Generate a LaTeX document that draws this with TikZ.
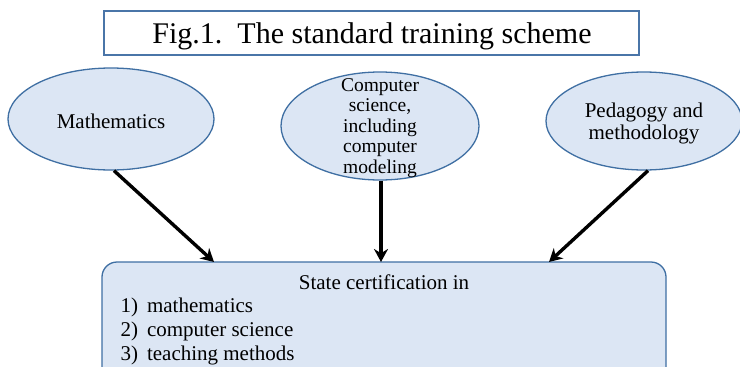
\documentclass[tikz,border=0pt]{standalone}
\usepackage{fontspec}
\setmainfont{Liberation Serif}
\usetikzlibrary{shapes.geometric,arrows.meta}
\definecolor{fillblue}{HTML}{DCE6F4}
\definecolor{edgeblue}{HTML}{3F6FA3}
\definecolor{titleedge}{HTML}{4A75A8}
\tikzset{
  topic/.style={ellipse, draw=edgeblue, line width=1.3pt, fill=fillblue,
    inner sep=0pt, align=center},
  link/.style={line width=3.4pt, -{Stealth[length=13pt,width=14pt]}},
}
\begin{document}
\begin{tikzpicture}[x=1pt,y=1pt]
\useasboundingbox (0,0) rectangle (740,-367);
\clip (0,0) rectangle (740,-367);
\fill[white] (0,0) rectangle (740,-367);

% title frame
\node[draw=titleedge, line width=1.5pt, minimum width=535pt, minimum height=44pt,
      inner sep=0pt] (title) at (371.5,-33) {};
\node[font=\fontsize{30}{34}\selectfont, anchor=base] (titletext) at (372,-43)
  {Fig.1.\ \ The standard training scheme};

% three subject areas
\node[topic, minimum width=206pt, minimum height=102pt] (m) at (111,-119) {};
\node[font=\fontsize{21}{24}\selectfont] (mtext) at (111,-121) {Mathematics};
\node[topic, minimum width=198pt, minimum height=108pt] (c) at (380,-126) {};
\node[font=\fontsize{19.5}{20.5}\selectfont, align=center] (ctext) at (380,-128)
  {Computer\\science,\\including\\computer\\modeling};
\node[topic, minimum width=196pt, minimum height=98pt] (p) at (644,-121) {};
\node[font=\fontsize{21}{22}\selectfont, align=center] (ptext) at (644,-123)
  {Pedagogy and\\methodology};

% certification box
\node[draw=edgeblue, line width=1.3pt, fill=fillblue, rounded corners=15pt,
      minimum width=564pt, minimum height=130pt, inner sep=0pt] (cert) at (384,-327) {};
\node[font=\fontsize{21}{24}\selectfont, anchor=base] (head) at (384,-289)
  {State certification in};
\node[font=\fontsize{21}{24}\selectfont, anchor=base west] (i1) at (117,-312)
  {1)\hspace{9pt}mathematics};
\node[font=\fontsize{21}{24}\selectfont, anchor=base west] (i2) at (117,-336)
  {2)\hspace{9pt}computer science};
\node[font=\fontsize{21}{24}\selectfont, anchor=base west] (i3) at (117,-360)
  {3)\hspace{9pt}teaching methods};

\coordinate (t1) at (214,-262);
\coordinate (t2) at (381,-262);
\coordinate (t3) at (549,-262);

\draw[link] (m.south) ++(3,0) -- (t1);
\draw[link] (c.south) ++(1,0) -- (t2);
\draw[link] (p.south) ++(4,0) -- (t3);
\end{tikzpicture}
\end{document}
